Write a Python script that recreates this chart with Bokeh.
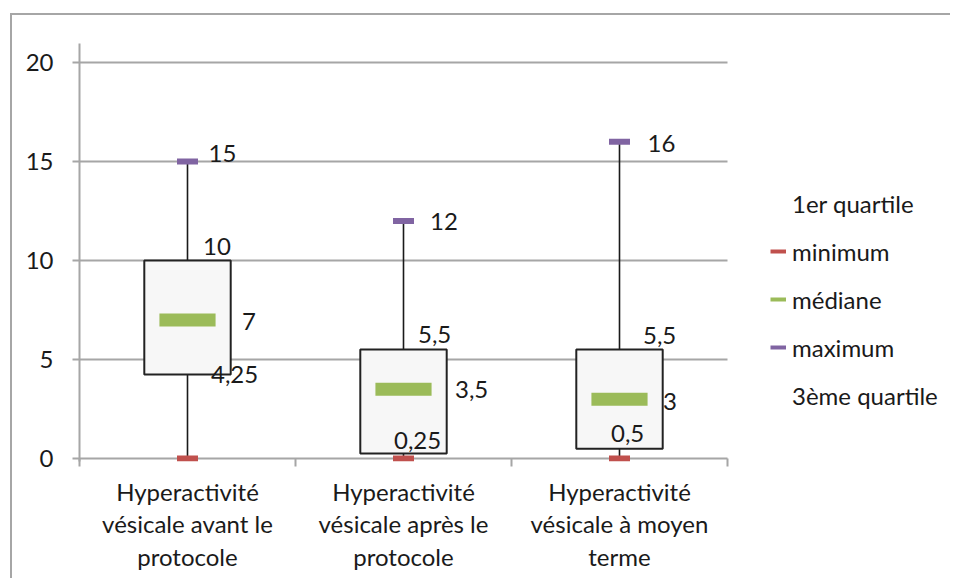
from bokeh.plotting import figure
from bokeh.models import (Range1d, FixedTicker, Legend, LegendItem,
                          ColumnDataSource, InlineStyleSheet)
from bokeh.core.properties import value
from bokeh.embed import file_html
from bokeh.resources import INLINE

# ---------------- data ----------------
categories = ["Hyperactivité\nvésicale avant le\nprotocole",
              "Hyperactivité\nvésicale après le\nprotocole",
              "Hyperactivité\nvésicale à moyen\nterme"]
minimum = [0, 0, 0]
q1 = [4.25, 0.25, 0.5]
mediane = [7, 3.5, 3]
q3 = [10, 5.5, 5.5]
maximum = [15, 12, 16]
y_ticks = [0, 5, 10, 15, 20]
legend_labels = ["1er quartile", "minimum", "médiane", "maximum", "3ème quartile"]

# ---------------- layout constants (pixels) ----------------
max_dx, max_dy = [21, 26.5, 28], [-8.5, 1, 2]
q3_dx, q3_dy = [15.5, 14.5, 23.5], [-14.5, -15, -14]
med_dx, med_dy = [54.5, 51.5, 43.5], [1.5, 0.5, 2.5]
q1_dx, q1_dy = [23.5, -9.5, -8.5], [0.5, -13, -15]

FONT = "Lato"
TXT = "#1a1a1a"
GRID = "#a6a6a6"
RED, GREEN, PURPLE = "#c0504d", "#9bbb59", "#8064a2"

xs = [i + 1 for i in range(len(categories))]
x_lo, x_hi = 0.5, len(categories) + 0.5
bounds = [x_lo + i for i in range(len(categories) + 1)]
NAN = float("nan")


def fmt(v):
    return (str(int(v)) if float(v).is_integer() else str(v)).replace(".", ",")


border_css = InlineStyleSheet(css="""
:host { position: relative; }
:host::after {
  content: ""; position: absolute; left: 10px; top: 13px; right: 0; bottom: 0;
  border-top: 2px solid #a6a6a6; border-left: 2px solid #a6a6a6;
  pointer-events: none; z-index: 100;
}
""")

# frame spans plot area + legend area; category band = 216 px
p = figure(width=950, height=578, output_backend="svg", toolbar_location=None,
           x_range=Range1d(x_lo, x_lo + 871 / 216), y_range=Range1d(-0.15, 20.96),
           min_border_left=79, min_border_right=0, min_border_top=43,
           min_border_bottom=117, stylesheets=[border_css])
p.outline_line_color = None
p.background_fill_color = "white"
p.border_fill_color = "white"

# grid lines limited to the category area
p.xgrid.visible = False
p.ygrid.visible = False
p.segment(x0=[x_lo] * len(y_ticks), y0=y_ticks, x1=[x_hi] * len(y_ticks), y1=y_ticks,
          line_color=GRID, line_width=2)

# y axis
p.yaxis.ticker = FixedTicker(ticks=y_ticks)
p.yaxis.axis_line_color = GRID
p.yaxis.axis_line_width = 2
p.yaxis.major_tick_out = 7
p.yaxis.major_tick_in = 0
p.yaxis.major_tick_line_color = GRID
p.yaxis.major_tick_line_width = 2
p.yaxis.minor_tick_line_color = None
p.yaxis.major_label_standoff = 19
p.yaxis.major_label_text_font = FONT
p.yaxis.major_label_text_font_size = "24px"
p.yaxis.major_label_text_color = TXT

# x axis
p.xaxis.ticker = FixedTicker(ticks=xs, minor_ticks=bounds)
p.xaxis.major_label_overrides = {x: c for x, c in zip(xs, categories)}
p.xaxis.axis_line_alpha = 0
p.xaxis.major_tick_out = 0
p.xaxis.major_tick_in = 0
p.xaxis.minor_tick_in = 3
p.xaxis.minor_tick_out = 5
p.xaxis.minor_tick_line_color = GRID
p.xaxis.minor_tick_line_width = 2
p.xaxis.major_label_standoff = 10
p.xaxis.major_label_text_font = FONT
p.xaxis.major_label_text_font_size = "24px"
p.xaxis.major_label_text_line_height = 1.13
p.xaxis.major_label_text_color = TXT

# whiskers
p.segment(x0=xs, y0=minimum, x1=xs, y1=q1, line_color="#1a1a1a", line_width=1.6)
p.segment(x0=xs, y0=q3, x1=xs, y1=maximum, line_color="#1a1a1a", line_width=1.6)

# boxes
p.vbar(x=xs, width=0.4, bottom=q1, top=q3, fill_color="#f7f7f7",
       line_color="#222222", line_width=2)

# median / min / max markers
p.rect(x=xs, y=mediane, width=0.26, height=13, height_units="screen",
       fill_color=GREEN, line_color=None)
p.rect(x=xs, y=minimum, width=21, width_units="screen", height=6,
       height_units="screen", fill_color=RED, line_color=None)
p.rect(x=xs, y=maximum, width=21, width_units="screen", height=6,
       height_units="screen", fill_color=PURPLE, line_color=None)

# data labels
for vals, dx, dy in [(maximum, max_dx, max_dy), (q3, q3_dx, q3_dy),
                     (mediane, med_dx, med_dy), (q1, q1_dx, q1_dy)]:
    src = ColumnDataSource(dict(x=xs, y=vals, t=[fmt(v) for v in vals], dx=dx, dy=dy))
    p.text(x="x", y="y", text="t", x_offset="dx", y_offset="dy", source=src,
           text_baseline="middle", text_align="left", text_font=value(FONT),
           text_font_size="24px", text_color=TXT)

# legend (proxy renderers with no visible data)
r_q1 = p.line(x=[NAN], y=[NAN], line_alpha=0)
r_min = p.line(x=[NAN], y=[NAN], line_color=RED, line_width=4)
r_med = p.line(x=[NAN], y=[NAN], line_color=GREEN, line_width=4)
r_max = p.line(x=[NAN], y=[NAN], line_color=PURPLE, line_width=4)
r_q3 = p.line(x=[NAN], y=[NAN], line_alpha=0)
legend = Legend(items=[LegendItem(label=l, renderers=[r]) for l, r in
                       zip(legend_labels, [r_q1, r_min, r_med, r_max, r_q3])],
                location=(691, 51), orientation="vertical",
                glyph_width=16, glyph_height=30, label_height=30, spacing=18,
                padding=0, margin=0, label_standoff=6,
                border_line_color=None, background_fill_alpha=0,
                label_text_font=FONT, label_text_font_size="24px",
                label_text_color=TXT)
p.add_layout(legend)

open("out.html", "w").write(file_html(p, INLINE))
